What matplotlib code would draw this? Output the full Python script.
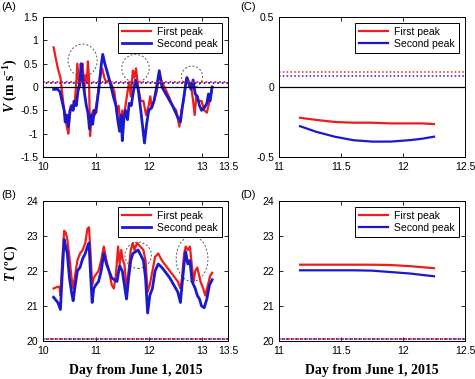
import numpy as np
import matplotlib.pyplot as plt
from matplotlib.patches import Ellipse

# panel A: velocity at each peak
va_x1 = [10.20, 10.28, 10.33, 10.36, 10.40, 10.42, 10.45, 10.48, 10.50, 10.53, 10.56, 10.58,
         10.60, 10.63, 10.65, 10.68, 10.70, 10.72, 10.75, 10.78, 10.80, 10.83, 10.85, 10.87,
         10.89, 10.92, 10.95, 10.98, 11.02, 11.08, 11.12, 11.16, 11.20, 11.25, 11.30, 11.35,
         11.40, 11.43, 11.47, 11.50, 11.53, 11.56, 11.60, 11.63, 11.66, 11.70, 11.73, 11.76,
         11.80, 11.85, 11.90, 11.95, 12.00, 12.03, 12.06, 12.10, 12.15, 12.20, 12.25, 12.30,
         12.38, 12.45, 12.52, 12.58, 12.62, 12.66, 12.70, 12.73, 12.77, 12.80, 12.84, 12.87,
         12.90, 12.95, 13.00, 13.05, 13.10, 13.15, 13.20]
va_y1 = [0.85, 0.40, 0.20, -0.10, -0.50, -0.60, -0.85, -1.00, -0.70, -0.40, -0.50, -0.30,
         -0.35, 0.10, 0.50, 0.10, 0.00, 0.30, 0.50, -0.10, 0.25, 0.10, 0.55, 0.20,
         -1.05, -0.60, -0.50, -0.60, -0.30, 0.20, 0.40, 0.20, 0.10, 0.15, 0.05, -0.10,
         -0.55, -0.40, -0.80, -0.50, -0.70, -0.40, -0.10, 0.10, -0.20, 0.35, 0.20, 0.40,
         0.00, -0.30, -0.30, -0.60, -0.40, -0.20, -0.45, -0.30, -0.10, 0.30, 0.10, 0.00,
         -0.20, -0.40, -0.50, -0.85, -0.50, -0.30, 0.10, 0.20, 0.00, 0.05, -0.30, -0.60,
         -0.20, -0.30, -0.30, -0.50, -0.55, -0.30, 0.00]
va_x2 = [10.20, 10.28, 10.32, 10.36, 10.40, 10.42, 10.45, 10.48, 10.51, 10.54, 10.57, 10.60,
         10.63, 10.66, 10.70, 10.72, 10.75, 10.78, 10.82, 10.85, 10.88, 10.91, 10.94, 10.97,
         11.00, 11.05, 11.10, 11.13, 11.17, 11.22, 11.28, 11.33, 11.38, 11.42, 11.45, 11.48,
         11.50, 11.53, 11.56, 11.60, 11.63, 11.67, 11.71, 11.75, 11.80, 11.85, 11.89, 11.92,
         11.96, 12.00, 12.05, 12.10, 12.15, 12.20, 12.25, 12.35, 12.45, 12.55, 12.60, 12.64,
         12.68, 12.72, 12.76, 12.80, 12.84, 12.88, 12.92, 12.96, 13.00, 13.05, 13.10, 13.13,
         13.16, 13.20]
va_y2 = [-0.05, -0.05, -0.10, -0.30, -0.50, -0.75, -0.60, -0.85, -0.50, -0.40, -0.50, -0.30,
         -0.40, -0.10, 0.10, 0.50, 0.20, -0.10, -0.40, -0.55, -0.90, -0.60, -0.80, -0.50,
         -0.55, -0.10, 0.45, 0.70, 0.50, 0.30, 0.05, -0.20, -0.40, -0.75, -0.95, -0.60,
         -1.15, -0.70, -0.50, -0.70, -0.35, -0.40, -0.10, 0.15, -0.05, -0.50, -0.90, -1.20,
         -0.80, -0.50, -0.45, -0.30, 0.00, 0.35, 0.00, -0.20, -0.40, -0.65, -0.75, -0.40,
         -0.10, 0.20, 0.10, -0.05, 0.15, -0.15, -0.20, -0.40, -0.50, -0.45, -0.35, -0.15,
         -0.30, 0.00]

# panel B: temperature at each peak
tb_x1 = [10.20, 10.28, 10.31, 10.33, 10.36, 10.40, 10.43, 10.46, 10.50, 10.54, 10.57, 10.61,
         10.65, 10.70, 10.75, 10.80, 10.84, 10.87, 10.90, 10.93, 10.96, 11.00, 11.05, 11.10,
         11.15, 11.20, 11.25, 11.30, 11.34, 11.38, 11.42, 11.45, 11.48, 11.51, 11.54, 11.58,
         11.62, 11.66, 11.70, 11.73, 11.78, 11.84, 11.90, 11.94, 11.98, 12.02, 12.07, 12.12,
         12.18, 12.25, 12.40, 12.55, 12.60, 12.63, 12.67, 12.70, 12.74, 12.78, 12.82, 12.85,
         12.88, 12.92, 12.95, 12.98, 13.03, 13.07, 13.12, 13.16, 13.20]
tb_y1 = [21.50, 21.55, 21.55, 21.30, 22.20, 23.15, 23.10, 22.90, 22.40, 21.80, 21.50, 21.90,
         22.30, 22.50, 22.60, 22.80, 23.20, 23.25, 22.50, 21.60, 21.80, 21.90, 22.00, 22.30,
         22.70, 22.30, 22.00, 21.60, 21.50, 21.90, 22.70, 22.20, 22.60, 22.30, 22.20, 21.50,
         22.00, 22.60, 22.80, 22.60, 22.80, 22.70, 22.60, 22.30, 21.40, 21.60, 22.00, 22.40,
         22.50, 22.30, 22.00, 21.70, 21.50, 21.80, 22.50, 22.70, 22.60, 22.70, 22.10, 21.70,
         22.00, 22.10, 21.90, 21.70, 21.50, 21.30, 21.60, 21.85, 21.95]
tb_x2 = [10.20, 10.28, 10.33, 10.36, 10.40, 10.43, 10.46, 10.50, 10.54, 10.57, 10.61, 10.65,
         10.70, 10.75, 10.80, 10.84, 10.87, 10.90, 10.93, 10.96, 11.00, 11.05, 11.10, 11.15,
         11.20, 11.25, 11.30, 11.35, 11.40, 11.45, 11.50, 11.54, 11.58, 11.62, 11.66, 11.70,
         11.75, 11.80, 11.85, 11.90, 11.94, 11.98, 12.02, 12.07, 12.12, 12.18, 12.25, 12.40,
         12.55, 12.60, 12.63, 12.67, 12.70, 12.74, 12.78, 12.82, 12.85, 12.88, 12.92, 12.96,
         13.00, 13.05, 13.10, 13.15, 13.20]
tb_y2 = [21.25, 21.10, 20.90, 21.80, 22.90, 22.70, 22.50, 21.80, 21.40, 21.15, 21.60, 22.00,
         22.10, 22.35, 22.50, 22.70, 22.80, 21.90, 21.10, 21.50, 21.60, 21.70, 22.00, 22.50,
         22.20, 22.00, 21.80, 21.75, 21.70, 22.15, 22.00, 21.60, 21.20, 21.80, 22.30, 22.50,
         22.55, 22.60, 22.45, 22.30, 21.80, 20.80, 21.30, 21.50, 22.00, 22.20, 22.10, 21.80,
         21.40, 21.10, 21.60, 22.20, 22.55, 22.20, 22.30, 21.70, 21.60, 21.50, 21.30, 21.20,
         21.00, 20.95, 21.20, 21.60, 21.75]

# panels C and D: smoothed curves
cd_x = [11.17, 11.30, 11.45, 11.60, 11.75, 11.90, 12.05, 12.15, 12.25]
vc_y1 = [-0.22, -0.235, -0.25, -0.255, -0.255, -0.26, -0.26, -0.26, -0.265]
vc_y2 = [-0.28, -0.32, -0.355, -0.38, -0.39, -0.39, -0.38, -0.37, -0.355]
td_y1 = [22.18, 22.18, 22.18, 22.18, 22.18, 22.17, 22.14, 22.11, 22.08]
td_y2 = [22.02, 22.02, 22.02, 22.02, 22.01, 21.97, 21.93, 21.89, 21.85]

v_ref1, v_ref2 = 0.11, 0.08
t_ref = 20.05

# dashed circles: (x, y, width, height)
circ_a = [(10.75, 0.57, 0.55, 0.70), (11.75, 0.40, 0.52, 0.60), (12.82, 0.22, 0.40, 0.46)]
circ_b = [(11.80, 22.45, 0.50, 0.75), (12.82, 22.35, 0.60, 1.30)]

RED = '#ee1c1c'
BLUE = '#1a1acc'
lab_font = {'family': 'Liberation Serif', 'weight': 'bold', 'size': 10}

plt.rcParams['font.family'] = 'Liberation Sans'
plt.rcParams['mathtext.fontset'] = 'custom'
plt.rcParams['mathtext.rm'] = 'Liberation Serif:bold'
plt.rcParams['mathtext.it'] = 'Liberation Serif:italic:bold'
plt.rcParams['mathtext.bf'] = 'Liberation Serif:bold'

fig = plt.figure(figsize=(4.75, 3.79), dpi=100)
W, H = 475.0, 379.0


def make_ax(x0, y0, x1, y1):
    return fig.add_axes([x0 / W, 1 - y1 / H, (x1 - x0) / W, (y1 - y0) / H])


axA = make_ax(43, 17, 228, 157)
axC = make_ax(279, 17, 465, 157)
axB = make_ax(43, 201, 228, 341)
axD = make_ax(279, 201, 465, 341)

for ax in [axA, axB, axC, axD]:
    ax.tick_params(direction='in', top=True, right=True, labelsize=7.5, length=3, width=0.6)
    for s in ax.spines.values():
        s.set_linewidth(0.7)

# A
axA.plot(va_x1, va_y1, color=RED, lw=1.6, label='First peak')
axA.plot(va_x2, va_y2, color=BLUE, lw=2.0, label='Second peak')
axA.axhline(0, color='k', lw=0.9)
axA.axhline(v_ref1, color=RED, lw=1.3, ls=(0, (1, 1.5)))
axA.axhline(v_ref2, color=BLUE, lw=1.3, ls=(1, (1, 1.5)))
for cx, cy, w, h in circ_a:
    axA.add_patch(Ellipse((cx, cy), w, h, fill=False, ec='#555555', lw=0.7, ls=(0, (2, 2))))
axA.set_xlim(10, 13.5)
axA.set_ylim(-1.5, 1.5)
axA.set_xticks([10, 11, 12, 13, 13.5])
axA.set_xticklabels(['10', '11', '12', '13', '13.5'])
axA.set_yticks([-1.5, -1, -0.5, 0, 0.5, 1, 1.5])
axA.set_yticklabels(['-1.5', '-1', '-0.5', '0', '0.5', '1', '1.5'])
fig.text(11 / W, 1 - 86 / H, r'$V$ (m s$^{\mathrm{-1}}$)', fontdict=lab_font,
         rotation=90, ha='center', va='center')

# B
axB.plot(tb_x1, tb_y1, color=RED, lw=1.6, label='First peak')
axB.plot(tb_x2, tb_y2, color=BLUE, lw=2.0, label='Second peak')
axB.axhline(t_ref, color=RED, lw=1.3, ls=(0, (1, 1.5)))
axB.axhline(t_ref, color=BLUE, lw=1.3, ls=(1, (1, 1.5)))
for cx, cy, w, h in circ_b:
    axB.add_patch(Ellipse((cx, cy), w, h, fill=False, ec='#555555', lw=0.7, ls=(0, (2, 2))))
axB.set_xlim(10, 13.5)
axB.set_ylim(20, 24)
axB.set_xticks([10, 11, 12, 13, 13.5])
axB.set_xticklabels(['10', '11', '12', '13', '13.5'])
axB.set_yticks([20, 21, 22, 23, 24])
fig.text(11 / W, 1 - 263 / H, r'$T$ (ºC)', fontdict=lab_font,
         rotation=90, ha='center', va='center')
axB.set_xlabel('Day from June 1, 2015', fontdict=lab_font, labelpad=6)

# C
axC.plot(cd_x, vc_y1, color=RED, lw=1.6, label='First peak')
axC.plot(cd_x, vc_y2, color=BLUE, lw=1.6, label='Second peak')
axC.axhline(0, color='k', lw=0.9)
axC.axhline(v_ref1, color=RED, lw=1.1, ls=(0, (1, 1.5)))
axC.axhline(v_ref2, color=BLUE, lw=1.1, ls=(0, (1, 1.5)))
axC.set_xlim(11, 12.5)
axC.set_ylim(-0.5, 0.5)
axC.set_xticks([11, 11.5, 12, 12.5])
axC.set_xticklabels(['11', '11.5', '12', '12.5'])
axC.set_yticks([-0.5, 0, 0.5])
axC.set_yticklabels(['-0.5', '0', '0.5'])

# D
axD.plot(cd_x, td_y1, color=RED, lw=1.6, label='First peak')
axD.plot(cd_x, td_y2, color=BLUE, lw=1.6, label='Second peak')
axD.axhline(t_ref, color=RED, lw=1.3, ls=(0, (1, 1.5)))
axD.axhline(t_ref, color=BLUE, lw=1.3, ls=(1, (1, 1.5)))
axD.set_xlim(11, 12.5)
axD.set_ylim(20, 24)
axD.set_xticks([11, 11.5, 12, 12.5])
axD.set_xticklabels(['11', '11.5', '12', '12.5'])
axD.set_yticks([20, 21, 22, 23, 24])
axD.set_xlabel('Day from June 1, 2015', fontdict=lab_font, labelpad=6)

for ax in [axA, axB, axC, axD]:
    leg = ax.legend(loc='upper right', fontsize=7.5, fancybox=False, framealpha=1,
                    edgecolor='k', borderpad=0.35, handlelength=2.8, labelspacing=0.2,
                    borderaxespad=0.6, handletextpad=0.6)
    leg.get_frame().set_linewidth(0.7)

for lab, x, y in [('(A)', 1, 2), ('(C)', 240, 2), ('(B)', 1, 190), ('(D)', 240, 190)]:
    fig.text(x / W, 1 - y / H, lab, fontsize=8, va='top', ha='left')

fig.savefig('out.png', dpi=100)
